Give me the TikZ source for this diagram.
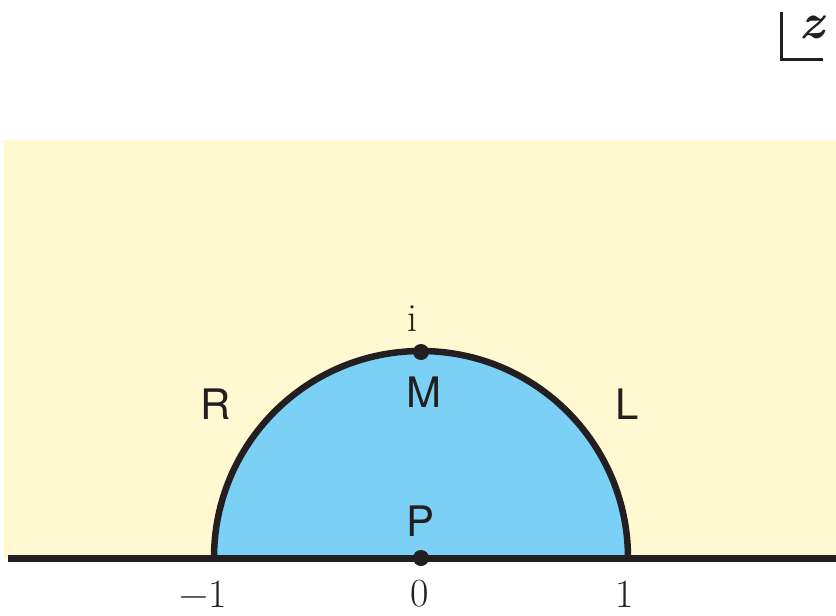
\documentclass[tikz,border=0pt]{standalone}
\usepackage{fontspec}
\newfontfamily\sanslbl{TeX Gyre Heros}
\newfontfamily\seriflbl{Latin Modern Roman}
\definecolor{bgyellow}{RGB}{255,248,208}
\definecolor{diskblue}{RGB}{122,208,245}
\definecolor{ink}{RGB}{35,31,32}
\begin{document}
\begin{tikzpicture}[x=1pt,y=-1pt,
  lettr/.style={font=\sanslbl\fontsize{42}{42}\selectfont, text=ink, inner sep=0pt},
  numlbl/.style={font=\seriflbl\fontsize{40}{40}\selectfont, text=ink, inner sep=0pt},
  dotnode/.style={circle, fill=ink, minimum size=16pt, inner sep=0pt}]
\useasboundingbox (0,0) rectangle (836,616);
\fill[bgyellow] (4,140) rectangle (836,558);
\fill[diskblue] (214,558) arc[start angle=180, end angle=360, radius=207] -- cycle;
\draw[ink, line width=6.5pt] (214,558) arc[start angle=180, end angle=360, radius=207];
\draw[ink, line width=7pt] (8,558) -- (836,558);
\node[dotnode] (top) at (421,352) {};
\node[dotnode] (origin) at (421,558) {};
\node[numlbl, font=\seriflbl\fontsize{40}{40}\selectfont] (ilbl) at (412,319) {i};
\node[lettr] (Mlbl) at (424,392) {M};
\node[lettr] (Rlbl) at (216,404) {R};
\node[lettr] (Llbl) at (627,404) {L};
\node[lettr] (Plbl) at (421,521) {P};
\node[numlbl] (m1) at (203,594) {\char"2212 1};
\node[numlbl] (n0) at (420,594) {0};
\node[numlbl] (n1) at (625,594) {1};
\draw[ink, line width=3pt] (781,12) -- (781,59) -- (823,59);
\node[numlbl, font=\seriflbl\fontsize{50}{50}\selectfont\bfseries\itshape] (zlbl) at (812,27) {z};
\end{tikzpicture}
\end{document}
